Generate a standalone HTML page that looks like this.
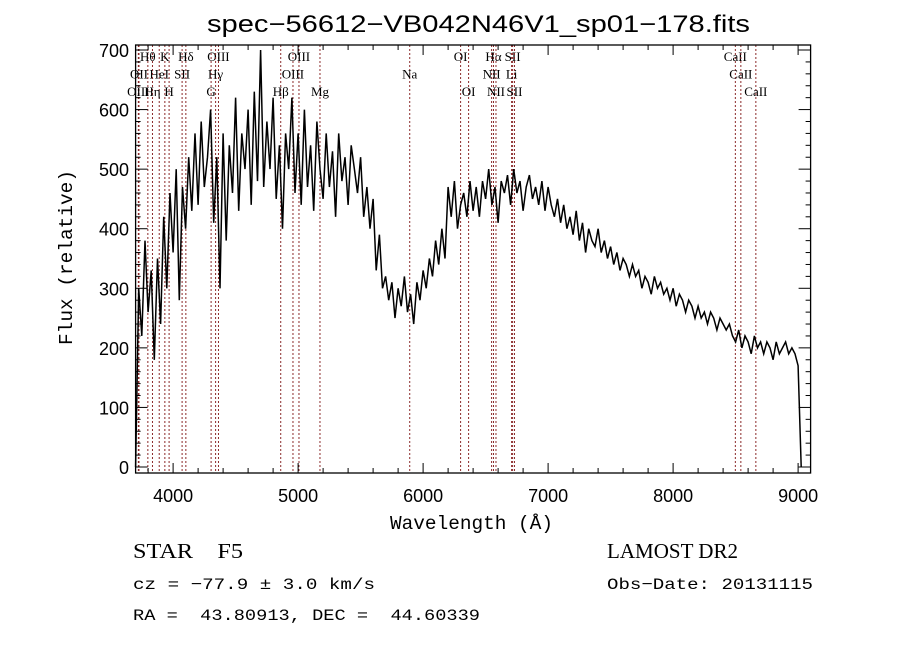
<!DOCTYPE html>
<html><head><meta charset="utf-8"><style>
body{margin:0;background:#fff;}
svg{display:block;}
text{fill:#000;white-space:pre;}
.sans{font-family:"Liberation Sans",sans-serif;}
.mono{font-family:"Liberation Mono",monospace;}
.serif{font-family:"Liberation Serif",serif;}
.lbl{font-family:"Liberation Serif",serif;font-size:13px;}
</style></head><body>
<svg id="chart" width="900" height="649" viewBox="0 0 900 649">
<rect width="900" height="649" fill="#fff"/>
<text class="sans" x="207" y="32" font-size="24" textLength="543" lengthAdjust="spacingAndGlyphs">spec−56612−VB042N46V1_sp01−178.fits</text>
<g id="lines"></g>
<g id="ticks"></g>
<path id="spec" fill="none" stroke="#000" stroke-width="1.5"/>
<rect x="135.6" y="45" width="675" height="428" fill="none" stroke="#000" stroke-width="1.3"/>
<text class="mono" x="390" y="529" font-size="19" textLength="163" lengthAdjust="spacingAndGlyphs">Wavelength (Å)</text>
<text class="mono" transform="translate(72,345) rotate(-90)" font-size="19" textLength="175" lengthAdjust="spacingAndGlyphs">Flux (relative)</text>
<text class="serif" x="133" y="558" font-size="21" textLength="110" lengthAdjust="spacingAndGlyphs">STAR    F5</text>
<text class="serif" x="607" y="558" font-size="21" textLength="131" lengthAdjust="spacingAndGlyphs">LAMOST DR2</text>
<text class="mono" x="133" y="589" font-size="16" textLength="242" lengthAdjust="spacingAndGlyphs">cz = −77.9 ± 3.0 km/s</text>
<text class="mono" x="607" y="589" font-size="16" textLength="206" lengthAdjust="spacingAndGlyphs">Obs−Date: 20131115</text>
<text class="mono" x="133" y="620" font-size="16" textLength="347" lengthAdjust="spacingAndGlyphs">RA =  43.80913, DEC =  44.60339</text>
</svg>
<script>
const wStart = 3700, wStep = 25;
const flux = [
0,300,220,380,260,330,180,350,240,420,
300,460,360,500,280,470,400,520,430,560,
440,580,470,520,600,410,520,300,560,380,
540,460,620,430,560,500,600,440,630,480,
700,470,580,500,620,450,540,400,560,500,
620,460,560,440,600,470,540,430,580,500,
450,560,470,530,420,560,480,520,440,540,
500,460,520,420,470,400,450,330,390,300,
320,280,310,250,300,270,320,260,290,240,
310,280,330,300,350,320,380,340,400,350,
470,420,480,400,440,460,420,480,430,470,
420,480,450,500,440,470,410,480,460,490,
440,500,460,480,430,470,490,450,470,440,
480,430,470,440,420,450,410,440,400,420,
390,430,380,410,360,400,380,370,400,360,
380,350,370,340,360,330,350,340,320,340,
320,330,300,320,310,290,320,300,310,290,
300,280,300,270,290,280,260,280,270,250,
270,250,260,240,260,250,230,250,240,230,
240,220,210,230,200,220,210,190,220,200,
210,190,210,200,180,210,190,200,210,190,
200,190,170,0];
const lineWaves = [3798,3934,4102,4363,5007,6300,6563,6716,8498,3727,3889,4072,4340,4959,5893,6548,6708,8542,3722,3835,3968,4304,4861,5175,6364,6583,6731,8662];
const lineNames = ["Hθ","K","Hδ","OIII","OIII","OI","Hα","SII","CaII","OII","HeI","SII","Hγ","OIII","Na","NII","Li","CaII","OIII","Hη","H","G","Hβ","Mg","OI","NII","SII","CaII"];
const lineRows = [0,0,0,0,0,0,0,0,0,1,1,1,1,1,1,1,1,1,2,2,2,2,2,2,2,2,2,2];
const xTicks = [4000,5000,6000,7000,8000,9000];
const yTicks = [0,100,200,300,400,500,600,700];

const X0=135.6,X1=810.6,Y0=45,Y1=473;
const xs = w => X0 + (w-3700)*0.125;
const ys = f => 467 - f*0.5957;
const NS="http://www.w3.org/2000/svg";
function mk(tag,attrs,parent){const e=document.createElementNS(NS,tag);for(const k in attrs)e.setAttribute(k,attrs[k]);parent.appendChild(e);return e;}

let d='';
flux.forEach((f,i)=>{const x=xs(wStart+i*wStep),y=ys(f);d+=(i?'L':'M')+x.toFixed(1)+' '+y.toFixed(1);});
document.getElementById('spec').setAttribute('d',d);

const lg=document.getElementById('lines');
lineWaves.forEach((w,i)=>{
  const x=xs(w);
  const l=mk('line',{x1:x,x2:x,y1:Y0,y2:Y1,stroke:'#8b2a2a','stroke-width':1,'stroke-dasharray':'2,2'},lg);
  
  
  const t=mk('text',{x:x,y:61+lineRows[i]*17.5,'text-anchor':'middle','class':'lbl'},lg);
  t.textContent=lineNames[i];
  
  
});

const tg=document.getElementById('ticks');
for(let w=3800;w<=9100;w+=200){
  const x=xs(w),maj=(w%1000===0);const L=maj?10:5;
  mk('line',{x1:x,x2:x,y1:Y1,y2:Y1-L,stroke:'#000'},tg);
  mk('line',{x1:x,x2:x,y1:Y0,y2:Y0+L,stroke:'#000'},tg);
}
for(let f=0;f<=700;f+=20){
  const y=ys(f),maj=(f%100===0);const L=maj?12:5;
  mk('line',{x1:X0,x2:X0+L,y1:y,y2:y,stroke:'#000'},tg);
  mk('line',{x1:X1,x2:X1-L,y1:y,y2:y,stroke:'#000'},tg);
}
xTicks.forEach(w=>{
  const t=mk('text',{x:xs(w),y:502,'font-size':18,'text-anchor':'middle','class':'sans'},tg);
  t.textContent=w;
  
  
});
yTicks.forEach(f=>{
  const t=mk('text',{x:129,y:ys(f)+7,'font-size':18,'text-anchor':'end','class':'sans'},tg);
  t.textContent=f;
  
  
});
</script>
</body></html>
